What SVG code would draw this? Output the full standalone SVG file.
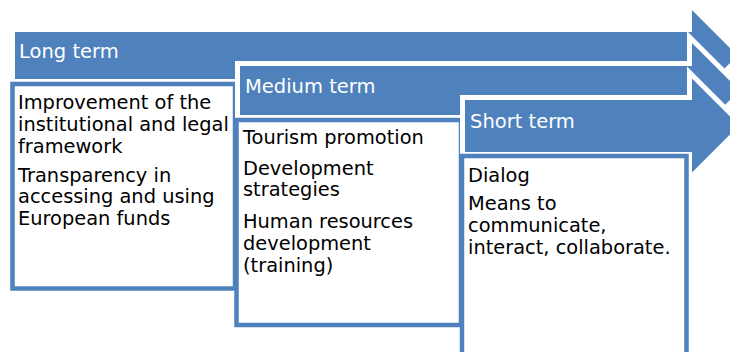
<svg xmlns="http://www.w3.org/2000/svg" width="730" height="352" viewBox="0 0 730 352">
<style>
.arrow{fill:#4f81bd;stroke:#ffffff;stroke-width:5;stroke-linejoin:miter}
.box{fill:#ffffff;stroke:#4f81bd;stroke-width:4.5}
.lbl{font-family:"DejaVu Sans",Verdana,sans-serif;font-size:19.5px;fill:#ffffff}
.txt{font-family:"DejaVu Sans",Verdana,sans-serif;font-size:19.4px;fill:#000000}
</style>
<rect x="0" y="0" width="730" height="352" fill="#ffffff"/>
<g id="long-term">
<path class="arrow" d="M12.5,29.5 H689.5 V4 L741,55.5 L689.5,107 V81.5 H12.5 Z"/>
<text class="lbl" x="19" y="58">Long term</text>
<rect class="box" x="12.5" y="84" width="222.5" height="204.5"/>
<text class="txt" x="18" y="109">Improvement of the</text>
<text class="txt" x="18" y="131">institutional and legal</text>
<text class="txt" x="18" y="153">framework</text>
<text class="txt" x="18" y="182">Transparency in</text>
<text class="txt" x="18" y="203">accessing and using</text>
<text class="txt" x="18" y="225">European funds</text>
</g>
<g id="medium-term">
<path class="arrow" d="M237.5,63.5 H689.5 V37 L743,90.5 L689.5,144 V117.5 H237.5 Z"/>
<text class="lbl" x="245" y="93">Medium term</text>
<rect class="box" x="236.5" y="120" width="224.5" height="205"/>
<text class="txt" x="243" y="144">Tourism promotion</text>
<text class="txt" x="243" y="175">Development</text>
<text class="txt" x="243" y="196">strategies</text>
<text class="txt" x="243" y="228">Human resources</text>
<text class="txt" x="243" y="250">development</text>
<text class="txt" x="243" y="272">(training)</text>
</g>
<g id="short-term">
<path class="arrow" d="M462.5,97.5 H689.5 V72.5 L742.5,125.5 L689.5,178.5 V154.5 H462.5 Z"/>
<text class="lbl" x="470" y="128">Short term</text>
<rect class="box" x="462" y="156" width="224.5" height="220"/>
<text class="txt" x="468" y="182">Dialog</text>
<text class="txt" x="468" y="210">Means to</text>
<text class="txt" x="468" y="232">communicate,</text>
<text class="txt" x="468" y="254">interact, collaborate.</text>
</g>
<g id="connectors"></g>
</svg>
